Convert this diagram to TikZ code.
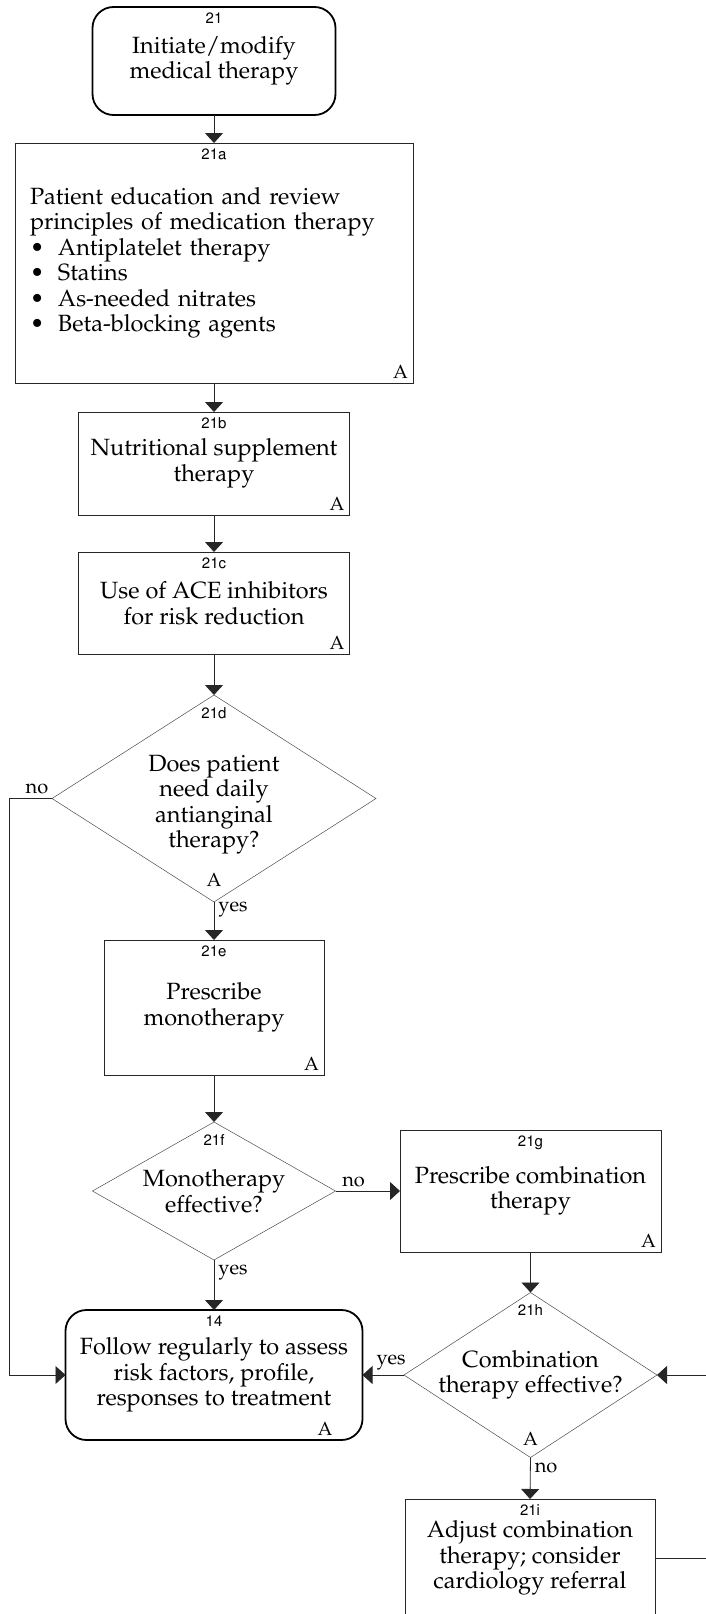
\documentclass[tikz,border=0pt]{standalone}
\usepackage[T1]{fontenc}
\usepackage{mathpazo}
\usepackage{helvet}
\usetikzlibrary{positioning}
\usetikzlibrary{arrows.meta}
\usetikzlibrary{shapes.geometric}

\newcommand{\medbullet}[1]{\makebox[28pt][l]{\textbullet}#1}

\begin{document}
\begin{tikzpicture}[x=1pt,y=-1pt,>={Triangle[length=10pt,width=18pt]},font=\fontsize{23.5}{25.5}\selectfont,
	box/.style={draw=black!85,line width=.8pt,inner sep=0pt,outer sep=0pt,align=center},
	terminal/.style={box,rounded corners=21pt,line width=1.8pt,draw=black},
	query/.style={shape=diamond,draw=black!70,line width=.5pt,inner sep=0pt,outer sep=0pt},
	qtext/.style={align=center,inner sep=0pt},
	stepno/.style={label={[font=\sffamily\fontsize{15}{15}\selectfont,anchor=north,inner sep=0pt,yshift=-6pt]north:#1}},
	stepnoq/.style={label={[font=\sffamily\fontsize{15}{15}\selectfont,anchor=north,inner sep=0pt,yshift=-12.5pt]north:#1}},
	grade/.style={label={[font=\fontsize{19}{19}\selectfont,anchor=south east,inner sep=0pt,xshift=-#1,yshift=4pt]south east:A}},
	gradeq/.style={label={[font=\fontsize{19}{19}\selectfont,anchor=south,inner sep=0pt,yshift=#1]south:A}},
	conn/.style={draw=black!85,line width=.8pt,->},
	edgelbl/.style={font=\fontsize{20}{20}\selectfont,inner sep=4pt}]
	\useasboundingbox (0,0) rectangle (705,1614);

	\node [terminal,minimum width=243,minimum height=108,stepno=21] at (214,61) (n21) {Initiate/modify\\medical therapy};
	\node [box,minimum width=398,minimum height=240,text width=368pt,inner xsep=15pt,align=left,stepno=21a,grade=5pt] at (214,263) (n21a) {Patient education and review\\principles of medication therapy\\\medbullet{Antiplatelet therapy}\\\medbullet{Statins}\\\medbullet{As-needed nitrates}\\\medbullet{Beta-blocking agents}};
	\node [box,minimum width=271,minimum height=103,stepno=21b,grade=5pt] at (214,463.5) (n21b) {Nutritional supplement\\therapy};
	\node [box,minimum width=271,minimum height=102,stepno=21c,grade=5pt] at (214,603) (n21c) {Use of ACE inhibitors\\for risk reduction};
	\node [query,minimum width=324,minimum height=207,stepnoq=21d,gradeq=15pt,label={[qtext,yshift=-6pt]center:Does patient\\need daily\\antianginal\\therapy?}] at (214,798.5) (n21d) {};
	\node [box,minimum width=220,minimum height=135,stepno=21e,grade=5pt] at (214,1007.5) (n21e) {Prescribe\\monotherapy};
	\node [query,minimum width=243,minimum height=138,stepnoq=21f,label={[qtext]center:Monotherapy\\effective?}] at (214,1191) (n21f) {};
	\node [box,minimum width=261,minimum height=122,stepno=21g,grade=5pt] at (530.5,1191) (n21g) {Prescribe combination\\therapy};
	\node [query,minimum width=253,minimum height=165,stepnoq=21h,gradeq=12pt,label={[qtext]center:Combination\\therapy effective?}] at (530.5,1375) (n21h) {};
	\node [terminal,minimum width=297,minimum height=130,stepno=14,grade=30pt] at (214,1375) (n14) {Follow regularly to assess\\risk factors, profile,\\responses to treatment};
	\node [box,minimum width=250,minimum height=118,stepno=21i] at (530,1558) (n21i) {Adjust combination\\therapy; consider\\cardiology referral};

	\coordinate (leftrail) at (9,0);
	\coordinate (rightrail) at (760,0);

	\draw[conn] (n21.south) -- (n21a.north);
	\draw[conn] (n21a.south) -- (n21b.north);
	\draw[conn] (n21b.south) -- (n21c.north);
	\draw[conn] (n21c.south) -- (n21d.north);
	\draw[conn] (n21d.south) -- node[edgelbl,right,pos=.2] {yes} (n21e.north);
	\draw[conn] (n21d.west) -- node[edgelbl,above,pos=.35] {no} (n21d.west -| leftrail) |- (n14.west);
	\draw[conn] (n21e.south) -- (n21f.north);
	\draw[conn] (n21f.east) -- node[edgelbl,above,pos=.28] {no} (n21g.west);
	\draw[conn] (n21f.south) -- node[edgelbl,right,pos=.24] {yes} (n14.north);
	\draw[conn] (n21g.south) -- (n21h.north);
	\draw[conn] (n21h.west) -- node[edgelbl,above,pos=.31] {yes} (n14.east);
	\draw[conn] (n21h.south) -- node[edgelbl,right,pos=.26] {no} (n21i.north);
	\draw[conn] (n21i.east) -- (n21i.east -| rightrail) |- (n21h.east);
\end{tikzpicture}
\end{document}
